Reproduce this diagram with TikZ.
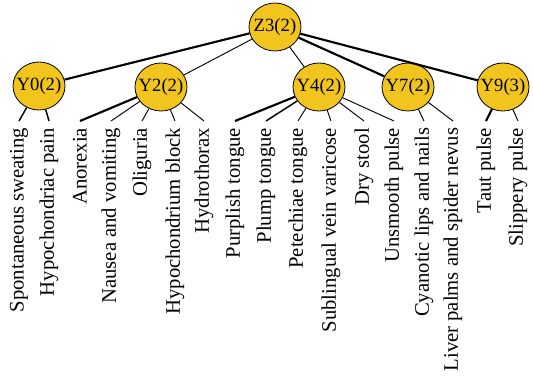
\documentclass[tikz,border=0pt]{standalone}
\usepackage{fontspec}
\setmainfont{Liberation Serif}
\usetikzlibrary{shapes.geometric}

\definecolor{factorgold}{RGB}{242,196,30}

\begin{document}
\begin{tikzpicture}[x=0.75pt,y=-0.75pt,font=\fontsize{15.5}{18}\selectfont,
        latent/.style={ellipse, draw, line width=0.6pt, fill=factorgold, minimum width=39pt, minimum height=36pt, inner xsep=-4pt, inner ysep=0pt, font=\fontsize{14}{16}\selectfont},
        symptom/.style={rotate=90, anchor=east, inner xsep=5pt, inner ysep=0pt},
        lowedge/.style={line width=0.7pt},
        midedge/.style={line width=1.1pt},
        highedge/.style={line width=1.6pt}]
        \useasboundingbox (0,0) rectangle (533,383);

        % the latent variables
        \node[latent] (Z3) at (275,27) {Z3(2)};
        \node[latent] (Y0) at (39,86) {Y0(2)};
        \node[latent] (Y2) at (161,87) {Y2(2)};
        \node[latent] (Y4) at (319,87) {Y4(2)};
        \node[latent] (Y7) at (408,87) {Y7(2)};
        \node[latent] (Y9) at (503,87) {Y9(3)};

        % the symptoms (rotated, hanging below the variables)
        \node[symptom] (s1) at (19,121) {Spontaneous sweating};
        \node[symptom] (s2) at (49,121) {Hypochondriac pain};
        \node[symptom] (s3) at (80,121) {Anorexia};
        \node[symptom] (s4) at (111,121) {Nausea and vomiting};
        \node[symptom] (s5) at (142,121) {Oliguria};
        \node[symptom] (s6) at (175,121) {Hypochondrium block};
        \node[symptom] (s7) at (204,121) {Hydrothorax};
        \node[symptom] (s8) at (235,121) {Purplish tongue};
        \node[symptom] (s9) at (266,121) {Plump tongue};
        \node[symptom] (s10) at (298,121) {Petechiae tongue};
        \node[symptom] (s11) at (331,121) {Sublingual vein varicose};
        \node[symptom] (s12) at (364,121) {Dry stool};
        \node[symptom] (s13) at (394,121) {Unsmooth pulse};
        \node[symptom] (s14) at (424,121) {Cyanotic lips and nails};
        \node[symptom] (s15) at (453,121) {Liver palms and spider nevus};
        \node[symptom] (s16) at (486,121) {Taut pulse};
        \node[symptom] (s17) at (518,121) {Slippery pulse};

        % the top level edges
        \draw[highedge] (Z3) -- (Y0);
        \draw[lowedge] (Z3) -- (Y2);
        \draw[lowedge] (Z3) -- (Y4);
        \draw[highedge] (Z3) -- (Y7);
        \draw[highedge] (Z3) -- (Y9);

        % the edges to the symptoms
        \draw[midedge] (Y0) -- (s1.east);
        \draw[midedge] (Y0) -- (s2.east);
        \draw[highedge] (Y2) -- (s3.east);
        \draw[lowedge] (Y2) -- (s4.east);
        \draw[lowedge] (Y2) -- (s5.east);
        \draw[lowedge] (Y2) -- (s6.east);
        \draw[lowedge] (Y2) -- (s7.east);
        \draw[highedge] (Y4) -- (s8.east);
        \draw[midedge] (Y4) -- (s9.east);
        \draw[lowedge] (Y4) -- (s10.east);
        \draw[lowedge] (Y4) -- (s11.east);
        \draw[lowedge] (Y4) -- (s12.east);
        \draw[lowedge] (Y4) -- (s13.east);
        \draw[lowedge] (Y7) -- (s14.east);
        \draw[lowedge] (Y7) -- (s15.east);
        \draw[highedge] (Y9) -- (s16.east);
        \draw[lowedge] (Y9) -- (s17.east);
\end{tikzpicture}
\end{document}
